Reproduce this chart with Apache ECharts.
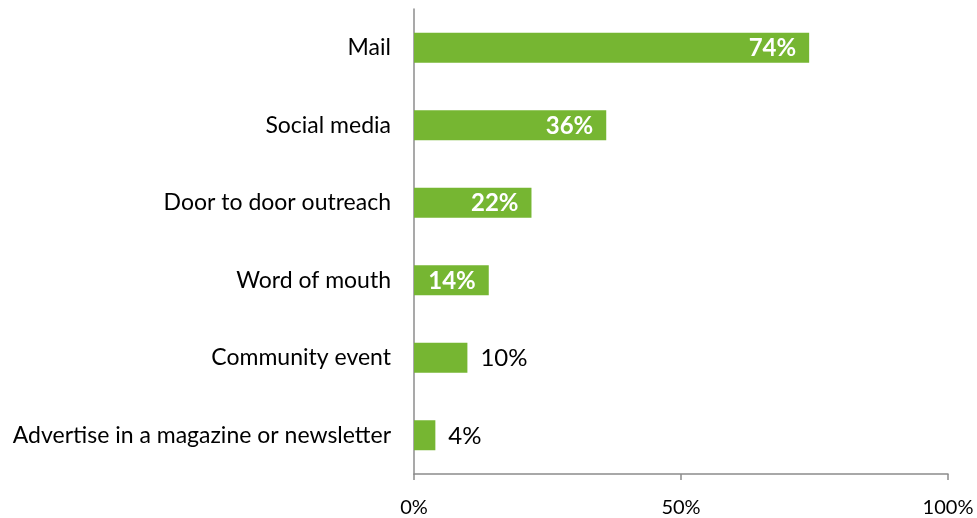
<!DOCTYPE html>
<html>
<head>
<meta charset="utf-8">
<script src="https://cdn.jsdelivr.net/npm/echarts@6/dist/echarts.min.js"></script>
<style>
  html, body { margin: 0; padding: 0; background: #fff; }
  #chart { width: 977px; height: 518px; }
</style>
</head>
<body>
<div id="chart"></div>
<script>
// Outreach channels and the share of respondents using each
const categories = [
  'Mail',
  'Social media',
  'Door to door outreach',
  'Word of mouth',
  'Community event',
  'Advertise in a magazine or newsletter'
];
const values = [74, 36, 22, 14, 10, 4];
const xTicks = [0, 50, 100];

// Short bars get their label outside the bar
const insideThreshold = 12;
const FONT = 'Lato, "Open Sans", sans-serif';

const chart = echarts.init(document.getElementById('chart'));

const seriesData = values.map(v => {
  const inside = v >= insideThreshold;
  return {
    value: v,
    label: inside
      ? { position: 'insideRight', color: '#fff', fontWeight: 'bold', fontSize: 24, offset: [-8, 1] }
      : { position: 'right', color: '#000', fontWeight: 'normal', fontSize: 24, distance: 13, offset: [0, 1] }
  };
});

chart.setOption({
  animation: false,
  grid: { left: 414, right: 29, top: 9, bottom: 42, containLabel: false },
  xAxis: {
    type: 'value',
    min: 0,
    max: 100,
    interval: 50,
    axisLine: { show: true, lineStyle: { color: '#8c8c8c', width: 1.5 } },
    axisTick: { show: true, length: 6, lineStyle: { color: '#8c8c8c', width: 1.5 } },
    splitLine: { show: false },
    axisLabel: {
      color: '#000',
      fontSize: 20,
      fontFamily: FONT,
      margin: 24,
      formatter: v => (xTicks.includes(v) ? v + '%' : '')
    }
  },
  yAxis: {
    type: 'category',
    inverse: true,
    data: categories,
    axisLine: { show: true, lineStyle: { color: '#8c8c8c', width: 1.5 } },
    axisTick: { show: false },
    axisLabel: { color: '#000', fontSize: 23, fontFamily: FONT, margin: 23 }
  },
  series: [{
    type: 'bar',
    data: seriesData,
    barWidth: 30,
    itemStyle: { color: '#76b632' },
    label: {
      show: true,
      fontFamily: FONT,
      formatter: p => p.value + '%'
    }
  }]
});
</script>
</body>
</html>
